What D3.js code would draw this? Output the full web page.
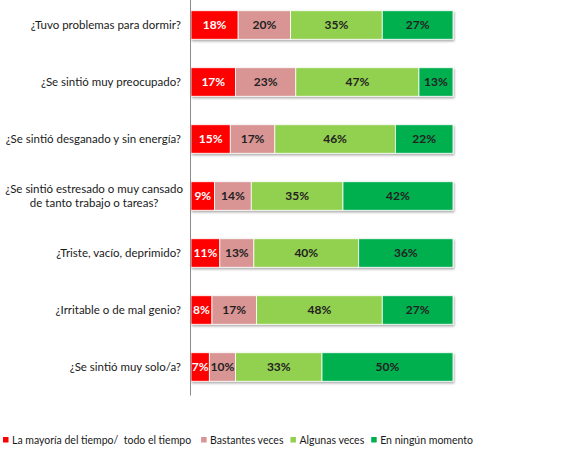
<!DOCTYPE html>
<html>
<head>
<meta charset="utf-8">
<script src="https://cdn.jsdelivr.net/npm/d3@7"></script>
<style>
body { margin: 0; background: #fff; }
text { font-family: Lato, "Open Sans", sans-serif; }
</style>
</head>
<body>
<div id="chart"></div>
<script>

var categories = [
    ["¿Tuvo problemas para dormir?"],
    ["¿Se sintió muy preocupado?"],
    ["¿Se sintió desganado y sin energía?"],
    ["¿Se sintió estresado o muy cansado", "de tanto trabajo o tareas?"],
    ["¿Triste, vacío, deprimido?"],
    ["¿Irritable o de mal genio?"],
    ["¿Se sintió muy solo/a?"]
];
var seriesNames = ["La mayoría del tiempo/  todo el tiempo", "Bastantes veces", "Algunas veces", "En ningún momento"];
var mayoria   = [18, 17, 15, 9, 11, 8, 7];
var bastantes = [20, 23, 17, 14, 13, 17, 10];
var algunas   = [35, 47, 46, 35, 40, 48, 33];
var ninguno   = [27, 13, 22, 42, 36, 27, 50];
var colors = ["#ff0000", "#d99594", "#92d050", "#00b050"];
var labelColors = ["#ffffff", "#222222", "#222222", "#222222"];

var W = 571, H = 460;
var keys = ["a", "b", "c", "d"];
var rows = categories.map(function(c, i){
    return {i: i, a: mayoria[i], b: bastantes[i], c: algunas[i], d: ninguno[i]};
});
var stacked = d3.stack().keys(keys)(rows);

var svg = d3.select("#chart").append("svg")
    .attr("width", W).attr("height", H);

var defs = svg.append("defs");
var f = defs.append("filter").attr("id", "shadow")
    .attr("x", "-5%").attr("y", "-20%").attr("width", "110%").attr("height", "150%");
f.append("feDropShadow").attr("dx", 1).attr("dy", 1.5)
    .attr("stdDeviation", 0.8).attr("flood-color", "#000").attr("flood-opacity", 0.35);

var x = d3.scaleLinear().domain([0, 100]).range([191, 453]);
var y = d3.scaleBand().domain(d3.range(categories.length))
    .range([-3.5, 395.5]).paddingInner(0.5).paddingOuter(0.25);

// bars, one group per row so the shadow sits under the whole row
var rowG = svg.append("g").selectAll("g.row")
    .data(rows).enter().append("g")
    .attr("class", "row")
    .attr("filter", "url(#shadow)");

rowG.selectAll("rect")
    .data(function(r){ return stacked.map(function(s, k){ return {k: k, v0: s[r.i][0], v1: s[r.i][1], i: r.i}; }); })
    .enter().append("rect")
    .attr("x", function(d){ return x(d.v0); })
    .attr("y", function(d){ return y(d.i); })
    .attr("width", function(d){ return x(d.v1) - x(d.v0); })
    .attr("height", y.bandwidth())
    .attr("fill", function(d){ return colors[d.k]; })
    .attr("stroke", "#fff")
    .attr("stroke-width", 0.8);

// value labels
stacked.forEach(function(s, k){
    svg.append("g").selectAll("text")
        .data(s).enter().append("text")
        .attr("x", function(d){ return (x(d[0]) + x(d[1])) / 2; })
        .attr("y", function(d, i){ return y(i) + y.bandwidth() / 2; })
        .attr("dy", "0.36em")
        .attr("text-anchor", "middle")
        .attr("font-size", 12)
        .attr("font-weight", "bold")
        .attr("fill", labelColors[k])
        .text(function(d){ return (d[1] - d[0]) + "%"; });
});

// category axis line
svg.append("line")
    .attr("x1", 190.5).attr("x2", 190.5)
    .attr("y1", 0).attr("y2", y.range()[1])
    .attr("stroke", "#8c8c8c").attr("stroke-width", 1);

// category labels, wrapped ones centred on the first line
var catG = svg.append("g").selectAll("g.cat")
    .data(categories).enter().append("g").attr("class", "cat");
catG.each(function(lines, i){
    var g = d3.select(this);
    var cy = y(i) + y.bandwidth() / 2;
    var lh = 13.5;
    var t = g.selectAll("text").data(lines).enter().append("text")
        .attr("font-size", 11.5)
        .attr("fill", "#1a1a1a")
        .attr("y", function(d, j){ return cy + (j - (lines.length - 1) / 2) * lh; })
        .attr("dy", "0.35em")
        .text(function(d){ return d; });
    if (lines.length === 1) {
        t.attr("x", 181).attr("text-anchor", "end");
    } else {
        var w0 = t.node().getComputedTextLength();
        t.attr("x", 183 - w0 / 2).attr("text-anchor", "middle");
    }
});

// legend
var lg = svg.append("g").attr("transform", "translate(3,440)");
var lx = 0;
seriesNames.forEach(function(name, k){
    var item = lg.append("g").attr("transform", "translate(" + lx + ",0)");
    item.append("rect").attr("x", 0).attr("y", -3).attr("width", 5.5).attr("height", 5.5)
        .attr("fill", colors[k]);
    var t = item.append("text").attr("x", 9).attr("y", 0).attr("dy", "0.35em")
        .attr("font-size", 10.5).attr("fill", "#1a1a1a")
        .attr("xml:space", "preserve").style("white-space", "pre")
        .text(name);
    lx += 9 + t.node().getComputedTextLength() + (k === 0 ? 10 : 7);
});

</script>
</body>
</html>
